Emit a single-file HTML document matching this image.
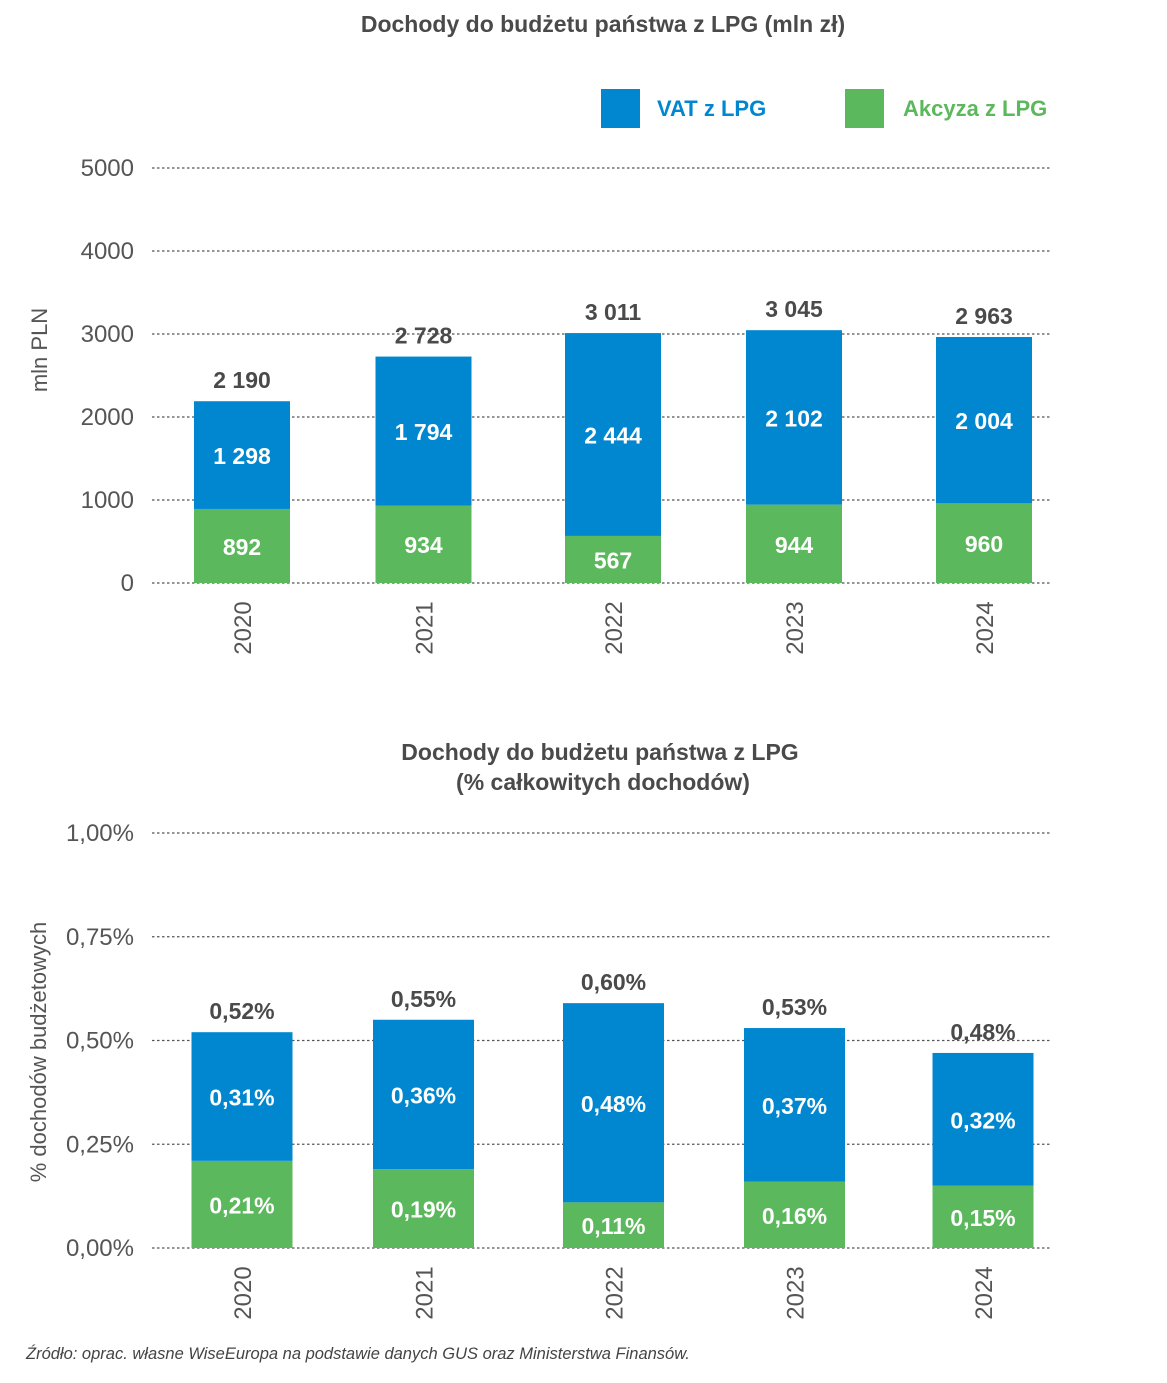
<!DOCTYPE html>
<html><head><meta charset="utf-8"><style>
body{margin:0;background:#fff;width:1167px;height:1378px;overflow:hidden;font-family:"Liberation Sans",sans-serif}
</style></head><body>
<svg id="svg" width="1167" height="1378" xmlns="http://www.w3.org/2000/svg" font-family="Liberation Sans, sans-serif">
<text x="603" y="32" text-anchor="middle" font-size="23" font-weight="bold" fill="#4a4a4a">Dochody do budżetu państwa z LPG (mln zł)</text>
<rect x="601" y="89" width="39" height="39" fill="#0087cf"/>
<text x="657" y="116" font-size="22" font-weight="bold" fill="#0087cf">VAT z LPG</text>
<rect x="845" y="89" width="39" height="39" fill="#5cb85c"/>
<text x="903" y="116" font-size="22" font-weight="bold" fill="#5cb85c">Akcyza z LPG</text>
<text transform="translate(47,350) rotate(-90)" text-anchor="middle" font-size="22" fill="#555">mln PLN</text>
<text x="600" y="760" text-anchor="middle" font-size="23" font-weight="bold" fill="#4a4a4a">Dochody do budżetu państwa z LPG</text>
<text x="603" y="790" text-anchor="middle" font-size="23" font-weight="bold" fill="#4a4a4a">(% całkowitych dochodów)</text>
<text transform="translate(46,1052) rotate(-90)" text-anchor="middle" font-size="22" fill="#555">% dochodów budżetowych</text>
<text x="26" y="1359" font-size="16.5" font-style="italic" fill="#444">Źródło: oprac. własne WiseEuropa na podstawie danych GUS oraz Ministerstwa Finansów.</text>
<g id="top"></g><g id="bot"></g>
</svg>
<script>
const years=["2020","2021","2022","2023","2024"];
const vatMln=[1298,1794,2444,2102,2004];
const akcyzaMln=[892,934,567,944,960];
const totalMln=[2190,2728,3011,3045,2963];
const topTicks=[0,1000,2000,3000,4000,5000];
const vatPct=[0.31,0.36,0.48,0.37,0.32];
const akcyzaPct=[0.21,0.19,0.11,0.16,0.15];
const totalPct=[0.52,0.55,0.60,0.53,0.48];
const botTicks=[0,0.25,0.5,0.75,1.0];
const NS="http://www.w3.org/2000/svg";
function mk(p,t,a,txt){const e=document.createElementNS(NS,t);for(const k in a)e.setAttribute(k,a[k]);if(txt!==undefined)e.textContent=txt;p.appendChild(e);return e;}
function fmtM(v){return v>=1000?Math.floor(v/1000)+" "+String(v%1000).padStart(3,"0"):String(v);}
function fmtP(v){return v.toFixed(2).replace(".",",")+"%";}
function draw(g,o){
 const y=v=>o.y0-(v/o.max)*(o.y0-o.y1);
 o.ticks.forEach(t=>{
  const l=mk(g,"line",{x1:152,x2:1051,y1:y(t),y2:y(t),stroke:"#555","stroke-width":1.2,"stroke-dasharray":"2.5,2.5"});
  
  
  const tx=mk(g,"text",{x:134,y:y(t)+8,"text-anchor":"end","font-size":24,fill:"#555"},o.tf(t));
  
  
 });
 years.forEach((yr,i)=>{
  const cx=o.cx[i],w=o.w;
  const gb=mk(g,"rect",{x:cx-w/2,y:y(o.a[i]),width:w,height:y(0)-y(o.a[i]),fill:"#5cb85c"});
  
  
  const bb=mk(g,"rect",{x:cx-w/2,y:y(o.a[i]+o.v[i]),width:w,height:y(o.a[i])-y(o.a[i]+o.v[i]),fill:"#0087cf"});
  
  
  const l1=mk(g,"text",{x:cx,y:(y(0)+y(o.a[i]))/2+9,"text-anchor":"middle","font-size":23,"font-weight":"bold",fill:"#fff"},o.lf(o.a[i]));
  
  
  const l2=mk(g,"text",{x:cx,y:(y(o.a[i])+y(o.a[i]+o.v[i]))/2+9,"text-anchor":"middle","font-size":23,"font-weight":"bold",fill:"#fff"},o.lf(o.v[i]));
  
  
  const l3=mk(g,"text",{x:cx,y:y(o.a[i]+o.v[i])-13,"text-anchor":"middle","font-size":23,"font-weight":"bold",fill:"#4a4a4a"},o.lf(o.t[i]));
  
  
  const xl=mk(g,"text",{transform:`translate(${cx+9},${o.y0+45}) rotate(-90)`,"text-anchor":"middle","font-size":24,fill:"#555"},yr);
  
  
 });
}
draw(document.getElementById("top"),{y0:583,y1:168,max:5000,ticks:topTicks,tf:t=>String(t),lf:fmtM,a:akcyzaMln,v:vatMln,t:totalMln,cx:[242,423.5,613,794,984],w:96});
draw(document.getElementById("bot"),{y0:1248,y1:833,max:1.0,ticks:botTicks,tf:fmtP,lf:fmtP,a:akcyzaPct,v:vatPct,t:totalPct,cx:[242,423.5,613.5,794.5,983],w:101});
</script>
</body></html>
